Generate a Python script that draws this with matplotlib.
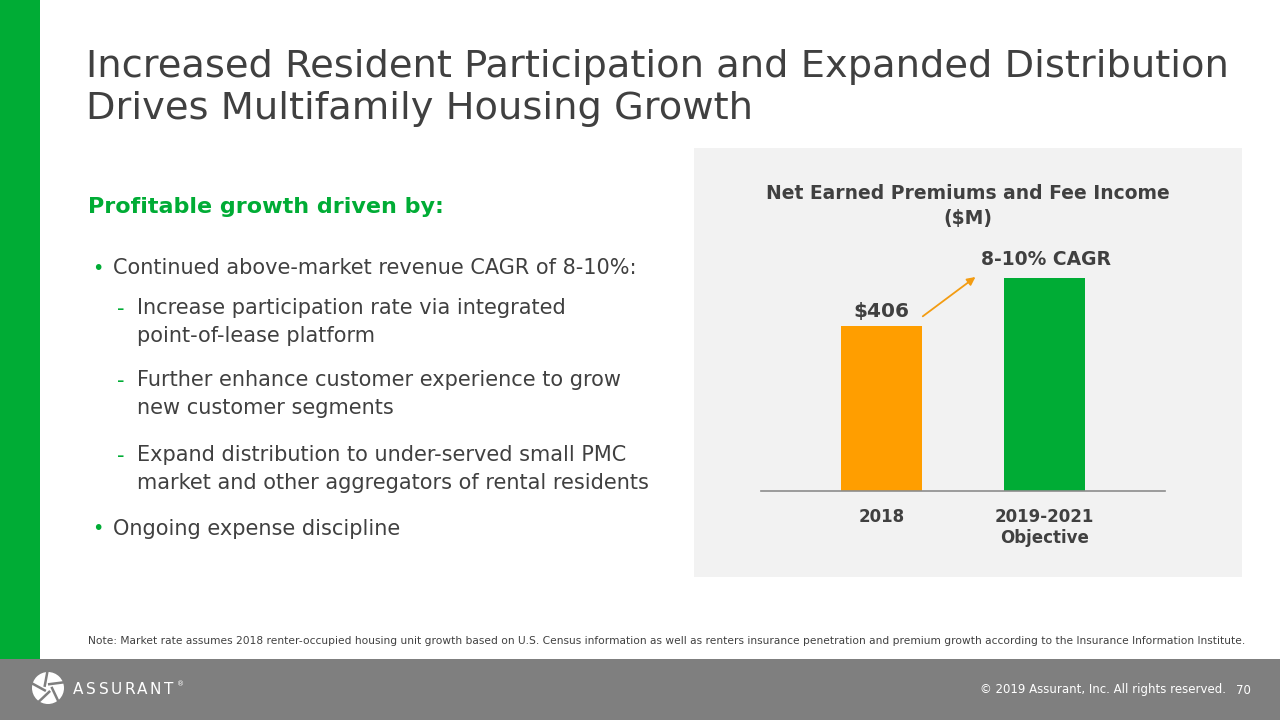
import numpy as np
import matplotlib
matplotlib.use("Agg")
from matplotlib import pyplot as plt
from matplotlib.patches import Rectangle, Ellipse

# data
categories = ["2018", "2019-2021\nObjective"]
values = [406, 525]
bar_colors = ["#FF9E00", "#00AC35"]
value_labels = ["$406", ""]

title = "Increased Resident Participation and Expanded Distribution\nDrives Multifamily Housing Growth"
chart_title = "Net Earned Premiums and Fee Income\n($M)"
subhead = "Profitable growth driven by:"
bullets = [
    (0, "Continued above-market revenue CAGR of 8-10%:"),
    (1, "Increase participation rate via integrated\npoint-of-lease platform"),
    (1, "Further enhance customer experience to grow\nnew customer segments"),
    (1, "Expand distribution to under-served small PMC\nmarket and other aggregators of rental residents"),
    (0, "Ongoing expense discipline"),
]
bullet_y = [268, 308, 380, 455, 529]
note = ("Note: Market rate assumes 2018 renter-occupied housing unit growth based on U.S. Census "
        "information as well as renters insurance penetration and premium growth according to the "
        "Insurance Information Institute.")

W, H = 1280, 720
dark = "#404040"
green = "#00AC35"
orange = "#F39C12"

plt.rcParams["font.family"] = ["DejaVu Sans"]

fig = plt.figure(figsize=(12.8, 7.2), dpi=100)
fig.patch.set_facecolor("white")


def fx(x):
    return x / W


def fy(y):
    return 1 - y / H


# left green strip and grey footer
fig.add_artist(Rectangle((0, fy(659)), fx(40), 1 - fy(659), transform=fig.transFigure,
                         color=green, lw=0, zorder=0))
fig.add_artist(Rectangle((0, 0), 1, fy(659), transform=fig.transFigure,
                         color="#7F7F7F", lw=0, zorder=0))

# chart panel
fig.add_artist(Rectangle((fx(694), fy(577)), fx(1242 - 694), fy(148) - fy(577),
                         transform=fig.transFigure, color="#F2F2F2", lw=0, zorder=0))

# title
fig.text(fx(86), fy(88), title, fontsize=27.6, color=dark, va="center", ha="left",
         linespacing=1.2)

# left text
fig.text(fx(88), fy(207), subhead, fontsize=16, color=green, fontweight="bold",
         va="center")
for (lvl, txt), y in zip(bullets, bullet_y):
    if lvl == 0:
        fig.text(fx(92), fy(y), "•", fontsize=14, color=green, va="center")
        fig.text(fx(113), fy(y), txt, fontsize=15, color=dark, va="center")
    else:
        fig.text(fx(117), fy(y + 1), "-", fontsize=15, color=green, va="center")
        fig.text(fx(137), fy(y - 10), txt, fontsize=15, color=dark, va="top",
                 linespacing=1.5)

# note
fig.text(fx(88), fy(641), note, fontsize=7.7, color=dark, va="center")

# footer
fig.text(fx(1226), fy(690), "© 2019 Assurant, Inc. All rights reserved.", fontsize=8.5,
         color="white", ha="right", va="center")
fig.text(fx(1243), fy(690), "70", fontsize=8.5, color="white", ha="center", va="center")
fig.add_artist(Ellipse((fx(48), fy(688)), fx(32), 32 / H, transform=fig.transFigure,
                       color="white", lw=0, zorder=1))
for ang in np.arange(0, 360, 72):
    a = np.deg2rad(ang)
    x0, y0 = 48 + 4 * np.cos(a), 688 + 4 * np.sin(a)
    x1, y1 = 48 + 16 * np.cos(a + 0.9), 688 + 16 * np.sin(a + 0.9)
    fig.add_artist(plt.Line2D([fx(x0), fx(x1)], [fy(y0), fy(y1)], transform=fig.transFigure,
                              color="#7F7F7F", lw=1.8, zorder=2))
for i, ch in enumerate("ASSURANT"):
    fig.text(fx(78 + i * 12.9), fy(689), ch, fontsize=11, color="white", va="center",
             ha="center")
fig.text(fx(177), fy(684), "®", fontsize=5, color="white", va="center")

# bar chart
ax = fig.add_axes([fx(761), fy(491), fx(1165 - 761), fy(240) - fy(491)])
ax.set_zorder(5)
ax.patch.set_alpha(0)
x = np.arange(len(categories))
bars = ax.bar(x, values, width=0.495, color=bar_colors, zorder=2)
ax.set_xlim(-0.737, 1.737)
ax.set_ylim(0, 618)
for s in ["top", "right", "left"]:
    ax.spines[s].set_visible(False)
ax.spines["bottom"].set_color("#8C8C8C")
ax.spines["bottom"].set_linewidth(1.2)
ax.set_yticks([])
ax.set_xticks(x)
ax.set_xticklabels(categories, fontsize=12, fontweight="bold", color=dark, linespacing=1.25)
ax.tick_params(axis="x", length=0, pad=12)
for xi, v, lab in zip(x, values, value_labels):
    if lab:
        ax.text(xi, v + 12, lab, ha="center", va="bottom", fontsize=14.5, fontweight="bold",
                color=dark)
ax.annotate("", xy=(0.59, values[1] + 6), xytext=(0.24, values[0] + 20),
            arrowprops=dict(arrowstyle="-|>", color=orange, lw=1.3, mutation_scale=12))
ax.text(1.01, values[1] + 22, "8-10% CAGR", ha="center", va="bottom", fontsize=13.5,
        fontweight="bold", color=dark)

fig.text(fx(968), fy(206), chart_title, ha="center", va="center", fontsize=13.5,
         fontweight="bold", color=dark, linespacing=1.45)

fig.savefig("out.png", dpi=100)
